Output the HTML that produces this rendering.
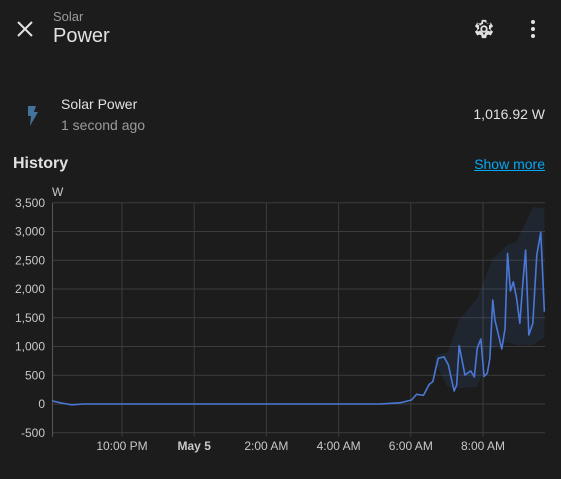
<!DOCTYPE html>
<html><head><meta charset="utf-8"><style>
body{margin:0;width:561px;height:479px;background:#1c1c1c;font-family:"Liberation Sans",sans-serif;color:#e1e1e1;overflow:hidden;position:relative}
.a{position:absolute;white-space:nowrap}
</style></head><body>
<div class="a" style="left:14px;top:18px;width:22px;height:22px">
<svg width="22" height="22" viewBox="0 0 22 22"><path d="M4 4L18 18M18 4L4 18" stroke="#e1e1e1" stroke-width="2"/></svg></div>
<div class="a" style="left:53px;top:9px;font-size:13px;color:#9b9b9b">Solar</div>
<div class="a" style="left:53px;top:25px;font-size:20px;color:#e1e1e1">Power</div>
<div class="a" style="left:473px;top:18px">
<svg width="22" height="22" viewBox="0 0 24 24"><path fill="#e1e1e1" d="M12 8a4 4 0 1 0 0 8a4 4 0 0 0 0-8zm0 2a2 2 0 1 1 0 4a2 2 0 0 1 0-4zm-2 12c-.25 0-.46-.18-.5-.42l-.37-2.65c-.63-.25-1.17-.59-1.690-.98l-2.49 1.01c-.22.08-.49 0-.61-.22l-2-3.46a.49.49 0 0 1 .12-.64l2.11-1.66L4.5 12l.07-1-2.11-1.63a.49.49 0 0 1-.12-.64l2-3.46c.12-.22.39-.31.61-.22l2.49 1c.52-.39 1.06-.73 1.69-.98l.37-2.65c.04-.24.25-.42.5-.42h4c.25 0 .46.18.5.42l.37 2.65c.63.25 1.170.59 1.69.98l2.49-1c.22-.09.49 0 .61.22l2 3.46c.13.22.07.49-.12.64L19.43 11l.07 1-.07 1 2.11 1.63c.19.15.25.42.12.64l-2 3.46c-.12.22-.39.3-.61.22l-2.49-1c-.52.39-1.06.73-1.69.98l-.37 2.65c-.04.24-.25.42-.5.42h-4zm1.25-18-.37 2.61c-1.2.25-2.26.89-3.03 1.78L5.44 5.35l-.75 1.3L6.8 8.2a5.5 5.5 0 0 0 0 3.6l-2.12 1.56.75 1.3 2.43-1.040c.77.88 1.82 1.52 3.01 1.76l.37 2.62h1.52l.37-2.61c1.19-.25 2.24-.89 3.01-1.77l2.43 1.04.75-1.3-2.12-1.55a5.5 5.5 0 0 0 0-3.61l2.11-1.55-.75-1.3-2.41 1.04c-.77-.9-1.83-1.54-3.03-1.78L12.77 4h-1.52z"/></svg></div>
<div class="a" style="left:531px;top:20px">
<svg width="4" height="18"><circle cx="2" cy="2" r="2" fill="#e1e1e1"/><circle cx="2" cy="9" r="2" fill="#e1e1e1"/><circle cx="2" cy="16" r="2" fill="#e1e1e1"/></svg></div>
<div class="a" style="left:26px;top:106px">
<svg width="14" height="20" viewBox="0 0 14 20"><path d="M2 0H10L8 6H12L4 20L5 10H2Z" fill="#44739e"/></svg></div>
<div class="a" style="left:61px;top:96px;font-size:14px;color:#e1e1e1">Solar Power</div>
<div class="a" style="left:61px;top:117px;font-size:14px;color:#9b9b9b">1 second ago</div>
<div class="a" style="right:16px;top:106px;font-size:14px;color:#e1e1e1">1,016.92 W</div>
<div class="a" style="left:13px;top:155px;font-size:16px;font-weight:bold;color:#e1e1e1">History</div>
<div class="a" style="right:16px;top:156px;font-size:14px;color:#03a9f4;text-decoration:underline">Show more</div>
<svg class="a" style="left:0;top:0" width="561" height="479" id="chart"></svg>
<script>
const yTicks=[3500,3000,2500,2000,1500,1000,500,0,-500];
const xTickHours=[0,2,4,6,8,10];
const xTickLabels=["10:00 PM","May 5","2:00 AM","4:00 AM","6:00 AM","8:00 AM"];
const times=[-1.94,-1.7,-1.39,-1.08,2,6,7.147,7.7,8.02,8.16,8.35,8.51,8.61,8.76,8.92,9.04,9.2,9.27,9.34,9.5,9.66,9.76,9.84,9.94,10.03,10.12,10.19,10.27,10.33,10.52,10.61,10.68,10.76,10.84,10.93,11.02,11.1,11.18,11.27,11.38,11.49,11.6,11.7];
const values=[57,20,-15,0,0,0,0,20,70,168,150,342,390,795,820,680,226,330,1014,504,575,470,968,1130,480,540,795,1808,1461,957,1310,2620,1965,2125,1840,1403,2070,2678,1200,1403,2590,2986,1605];
const bandTimes=[8.6,8.7,9.02,9.34,9.84,10.25,10.67,10.93,11.11,11.38,11.66,11.7];
const bandMax=[390,850,900,1461,1838,2504,2765,2823,3055,3431,3403,3400];
const bandMin=[390,700,300,273,300,968,1083,1026,1026,1026,1142,1142];
const svg=document.getElementById('chart');const NS='http://www.w3.org/2000/svg';
const X0=52.5,X1=545;
const xs=h=>122+36.1*h;
const ys=v=>404-v*28.75/500;
function mk(t,a,p){const e=document.createElementNS(NS,t);for(const k in a)e.setAttribute(k,a[k]);(p||svg).appendChild(e);return e;}
yTicks.forEach(v=>{const y=ys(v);
const g=mk('line',{x1:X0,x2:X1,y1:y,y2:y,stroke:'#3c3c3c','stroke-width':1});


const t=mk('text',{x:45,y:y+4,'text-anchor':'end','font-size':12,fill:'#c8c8c8','font-family':'Liberation Sans, sans-serif'});t.textContent=v.toLocaleString('en-US');

});
const la=mk('line',{x1:X0,x2:X0,y1:ys(3500),y2:ys(-500)+4,stroke:'#555'});


xTickHours.forEach((h,i)=>{const x=xs(h);if(x>X1)return;
const g=mk('line',{x1:x,x2:x,y1:ys(3500),y2:ys(-500)+4,stroke:'#3c3c3c'});


const t=mk('text',{x:x,y:450,'text-anchor':'middle','font-size':12,fill:'#c8c8c8','font-weight':i==1?'bold':'normal','font-family':'Liberation Sans, sans-serif'});t.textContent=xTickLabels[i];

});
const u=mk('text',{x:52,y:196,'font-size':12,fill:'#c8c8c8','font-family':'Liberation Sans, sans-serif'});u.textContent='W';


let d='';bandTimes.forEach((h,i)=>{d+=(i?'L':'M')+xs(h)+' '+ys(bandMax[i]);});
for(let i=bandTimes.length-1;i>=0;i--)d+='L'+xs(bandTimes[i])+' '+ys(bandMin[i]);
const b=mk('path',{d:d+'Z',fill:'rgba(68,115,200,0.12)'});


let p='';times.forEach((h,i)=>{p+=(i?'L':'M')+Math.min(xs(h),X1)+' '+ys(values[i]);});
const l=mk('path',{d:p,fill:'none',stroke:'#4a78d8','stroke-width':1.6,'stroke-linejoin':'round'});


</script>
</body></html>
